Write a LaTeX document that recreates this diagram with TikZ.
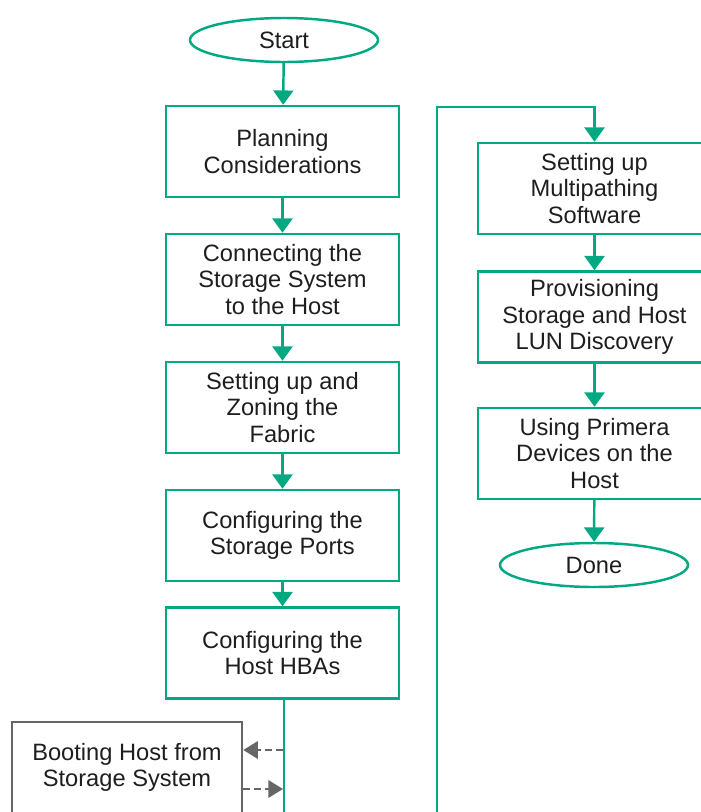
\documentclass[tikz,border=0pt]{standalone}
\usepackage{fontspec}
\setmainfont{Liberation Sans}
\usepackage{tikz}
\usetikzlibrary{arrows.meta,shapes.geometric,positioning}
\definecolor{hpegreen}{HTML}{01A982}
\definecolor{bootgray}{HTML}{666666}
\definecolor{txt}{HTML}{1E1E1E}

\begin{document}
\begin{tikzpicture}[
    x=0.03cm, y=-0.03cm,
    font=\fontsize{20.2}{22.8}\selectfont, text=txt,
    stepbox/.style={draw=hpegreen, line width=2.1pt, minimum width=6.99cm, minimum height=2.73cm, align=center, inner sep=0pt},
    termbox/.style={ellipse, draw=hpegreen, line width=2.1pt, minimum width=5.64cm, minimum height=1.32cm, inner sep=0pt},
    bootbox/.style={draw=bootgray, line width=2.1pt, minimum width=6.9cm, minimum height=2.73cm, align=center, inner sep=0pt},
    flow/.style={hpegreen, line width=2.1pt, -{Triangle[width=0.6cm, length=0.43cm]}},
    side/.style={bootgray, line width=2.1pt, dash pattern=on 6pt off 3.5pt, -{Triangle[width=0.52cm, length=0.44cm]}},
  ]
  \useasboundingbox (0,0) rectangle (701,812);

  % ========= LEFT COLUMN =========
  \node[termbox] (start) at (284,40) {Start};
  \node[stepbox] (plan) at (282.5,151.5) {Planning\\Considerations};
  \node[stepbox] (connect) at (282.5,279.5) {Connecting the\\Storage System\\to the Host};
  \node[stepbox] (zoning) at (282.5,407.5) {Setting up and\\Zoning the\\Fabric};
  \node[stepbox] (ports) at (282.5,535.5) {Configuring the\\Storage Ports};
  \node[stepbox] (hbas) at (282.5,653) {Configuring the\\Host HBAs};

  % optional step
  \node[bootbox] (boot) at (127,767.5) {Booting Host from\\Storage System};

  % ========= RIGHT COLUMN =========
  \node[stepbox] (multipath) at (594.5,188.5) {Setting up\\Multipathing\\Software};
  \node[stepbox] (provision) at (594.5,317) {Provisioning\\Storage and Host\\LUN Discovery};
  \node[stepbox] (devices) at (594.5,453.5) {Using Primera\\Devices on the\\Host};
  \node[termbox] (done) at (594,565) {Done};

  % Connectors
  \draw[flow] (start) -- (plan);
  \draw[flow] (plan) -- (connect);
  \draw[flow] (connect) -- (zoning);
  \draw[flow] (zoning) -- (ports);
  \draw[flow] (ports) -- (hbas);

  % jump to second column
  \coordinate (low) at (284,816);
  \coordinate (up) at (437,107);
  \draw[flow] (hbas.south -| low) -- (low) -- (low -| up) -- (up) -- (up -| multipath) -- (multipath.north);

  \draw[flow] (multipath) -- (provision);
  \draw[flow] (provision) -- (devices);
  \draw[flow] (devices) -- (done);

  % side trip to boot step
  \coordinate (tap) at (283,750);
  \coordinate (back) at (283,789);
  \draw[side] (tap) -- (boot.east |- tap);
  \draw[side] (boot.east |- back) -- (back);
\end{tikzpicture}
\end{document}
